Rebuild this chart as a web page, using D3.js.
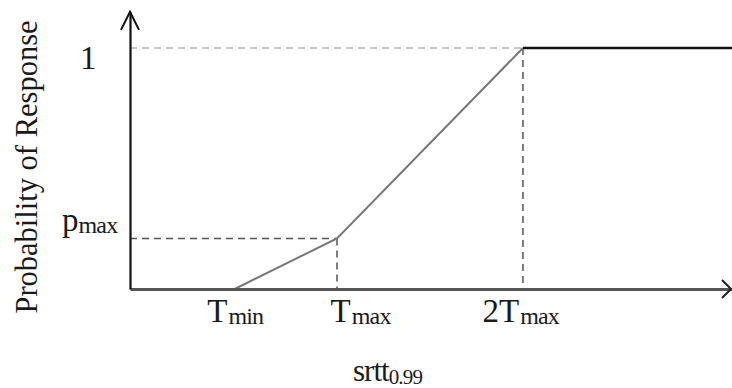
<!DOCTYPE html>
<html>
<head>
<script src="https://cdn.jsdelivr.net/npm/d3@7"></script>
</head>
<body style="margin:0">
<svg id="chart" width="732" height="388"></svg>
<script>
// ---- data ----
const xTickValues = [0.45, 1, 2];          // Tmin, Tmax, 2Tmax (in units of Tmax)
const xTickBase   = ["T", "T", "2T"];
const xTickSub    = ["min", "max", "max"];
const yTickValues = [0.21, 1];             // pmax, 1
const yTickBase   = ["p", "1"];
const yTickSub    = ["max", ""];
const rampX = [0.45, 1, 2];                // response probability curve (rising part)
const rampY = [0, 0.21, 1];
const plateauX = [2, 3.124];
const plateauY = [1, 1];
const xTitleBase = "srtt";
const xTitleSub  = "0.99";
const yTitle = "Probability of Response";

// ---- layout / styling ----
const FONT = '"Liberation Serif"';
const svg = d3.select("#chart");
const x = d3.scaleLinear().domain([-0.113, 3.124]).range([130, 732]);
const y = d3.scaleLinear().domain([0, 1.15]).range([289, 11.85]);
const xLabelShift = [-28, -7, -41];
const yLabelStyle = [{dx: -68, dy: -8}, {dx: -50, dy: 20}];

// dashed guide lines
const pmax = yTickValues[0], tmax = xTickValues[1], t2 = xTickValues[2];
svg.append("line")
  .attr("x1", x.range()[0]).attr("x2", x(t2))
  .attr("y1", y(1)).attr("y2", y(1))
  .attr("stroke", "#b8b8b8").attr("stroke-width", 1.6).attr("stroke-dasharray", "7,5");
svg.append("line")
  .attr("x1", x.range()[0]).attr("x2", x(tmax))
  .attr("y1", y(pmax)).attr("y2", y(pmax))
  .attr("stroke", "#555").attr("stroke-width", 1.5).attr("stroke-dasharray", "7,5");
svg.append("line")
  .attr("x1", x(tmax)).attr("x2", x(tmax))
  .attr("y1", y(pmax)).attr("y2", y(0))
  .attr("stroke", "#555").attr("stroke-width", 1.5).attr("stroke-dasharray", "7,5");
svg.append("line")
  .attr("x1", x(t2)).attr("x2", x(t2))
  .attr("y1", y(1)).attr("y2", y(0))
  .attr("stroke", "#555").attr("stroke-width", 1.5).attr("stroke-dasharray", "7,5");

// curve
const line = d3.line().x(d => x(d[0])).y(d => y(d[1]));
svg.append("path")
  .datum(d3.zip(rampX, rampY))
  .attr("d", line).attr("fill", "none")
  .attr("stroke", "#777").attr("stroke-width", 2);
svg.append("path")
  .datum(d3.zip(plateauX, plateauY))
  .attr("d", line).attr("fill", "none")
  .attr("stroke", "#111").attr("stroke-width", 2.6);

// x axis
const xAxis = svg.append("g")
  .attr("transform", `translate(0,${y(0)})`)
  .call(d3.axisBottom(x).tickValues(xTickValues).tickSize(0).tickFormat(""));
xAxis.select(".domain").attr("stroke", "#555").attr("stroke-width", 3);
xAxis.selectAll(".tick").each(function(d, i) {
  const t = d3.select(this).append("text")
    .attr("x", xLabelShift[i]).attr("y", 33)
    .attr("font-size", 33)
    .style("font-family", FONT)
    .attr("text-anchor", "start").attr("fill", "#1a1a1a");
  t.append("tspan").text(xTickBase[i]);
  t.append("tspan").attr("font-size", 24).attr("dx", 1).attr("dy", 2)
    .attr("letter-spacing", -0.8).text(xTickSub[i]);
});
// x arrow
svg.append("path")
  .attr("d", `M${x.range()[1] - 10},${y(0) - 9}L${x.range()[1] - 1},${y(0)}L${x.range()[1] - 10},${y(0) + 9}`)
  .attr("fill", "none").attr("stroke", "#222").attr("stroke-width", 2);

// y axis
const yAxis = svg.append("g")
  .attr("transform", `translate(${x.range()[0]},0)`)
  .call(d3.axisLeft(y).tickValues(yTickValues).tickSize(0).tickFormat(""));
yAxis.select(".domain").attr("stroke", "#111").attr("stroke-width", 2.2);
yAxis.selectAll(".tick").each(function(d, i) {
  const t = d3.select(this).append("text")
    .attr("x", yLabelStyle[i].dx).attr("y", yLabelStyle[i].dy)
    .attr("font-size", 33)
    .style("font-family", FONT)
    .attr("text-anchor", "start").attr("fill", "#1a1a1a");
  t.append("tspan").text(yTickBase[i]);
  if (yTickSub[i]) {
    t.append("tspan").attr("font-size", 24).attr("dx", 0).attr("dy", 2)
      .attr("letter-spacing", -0.8).text(yTickSub[i]);
  }
});
// y arrow
svg.append("path")
  .attr("d", `M${x.range()[0] - 9},${y.range()[1] + 18}L${x.range()[0]},${y.range()[1]}L${x.range()[0] + 9},${y.range()[1] + 18}`)
  .attr("fill", "none").attr("stroke", "#111").attr("stroke-width", 2);

// axis titles
const xt = svg.append("text")
  .attr("x", 353).attr("y", 381).attr("text-anchor", "start")
  .attr("font-size", 31)
  .style("font-family", FONT).attr("fill", "#1a1a1a");
xt.append("tspan").attr("letter-spacing", -1).text(xTitleBase);
xt.append("tspan").attr("font-size", 21).attr("dy", 3).attr("letter-spacing", -0.8).text(xTitleSub);

svg.append("text")
  .attr("transform", "translate(37,167) rotate(-90)")
  .attr("text-anchor", "middle")
  .attr("font-size", 30.5)
  .style("font-family", FONT).attr("fill", "#1a1a1a")
  .text(yTitle);
</script>
</body>
</html>
